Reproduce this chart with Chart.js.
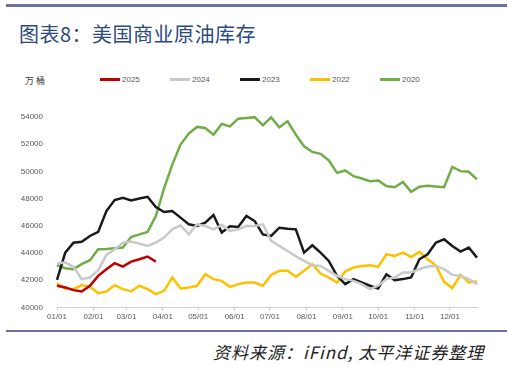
<!DOCTYPE html>
<html>
<head>
<meta charset="utf-8">
<script src="https://cdn.jsdelivr.net/npm/chart.js@4"></script>
<style>
  body { margin: 0; background: #fff; width: 507px; height: 365px; overflow: hidden; position: relative; font-family: "Noto Sans CJK SC", sans-serif; }
  #topline { position: absolute; left: 6px; right: 0; top: 4px; height: 3px; background: #6d6f9e; }
  #title { position: absolute; left: 19px; top: 19px; font-size: 20px; color: #2b4a80; letter-spacing: 0.5px; }
  #unit { position: absolute; left: 25px; top: 74px; font-size: 9px; color: #404040; }
  #legend { position: absolute; left: 0; top: 74px; height: 12px; width: 507px; }
  .item { position: absolute; top: 0; height: 12px; font: 8px "Liberation Sans", sans-serif; color: #595959; line-height: 12px; }
  .item span { display: inline-block; width: 20px; height: 3px; vertical-align: middle; margin-right: 2px; }
  #box { position: absolute; left: 0; top: 60px; width: 507px; height: 270px; }
  #botline { position: absolute; left: 6px; right: 0; top: 330px; height: 2px; background: #6d6f9e; }
  #source { position: absolute; left: 213px; top: 339px; font-size: 17px; font-style: italic; color: #222; letter-spacing: 1px; }
</style>
</head>
<body>
<div id="topline"></div>
<div id="title">图表8：美国商业原油库存</div>
<div id="unit">万 桶</div>
<div id="legend"></div>
<div id="box"><canvas id="mychart"></canvas></div>
<div id="botline"></div>
<div id="source">资料来源：iFind, 太平洋证券整理</div>
<script>
// weekly values, 万桶
let s2025 = [41590, 41470, 41270, 41170, 41590, 42320, 42810, 43250, 43000, 43370, 43540, 43740, 43370]
let s2024 = [43250, 43300, 43000, 42080, 42200, 42740, 43860, 44280, 44760, 44840, 44690, 44520, 44760, 45130, 45740, 46030, 45370, 46110, 45990, 45740, 46060, 45620, 45740, 45990,
  45990, 46110, 44890, 44520, 44150, 43760, 43420, 43100, 43050, 42690, 42320, 42080, 41950, 41710, 41340, 41590, 42080, 42200, 42570, 42570, 42810, 43000, 43050, 42810, 42390, 42320, 42080, 41710]
let s2023 = [42030, 44030, 44760, 44830, 45250, 45550, 47080, 47890, 48060, 47870, 48010, 48130, 47380, 47010, 47080, 46600, 46110, 45990, 46230, 46790, 45500, 45960, 45910, 46720,
  46350, 45370, 45250, 45860, 45790, 45740, 44030, 44570, 44030, 43420, 42320, 41710, 42080, 41830, 41590, 41390, 42440, 42000, 42080, 42200, 43540, 43910, 44760, 45010, 44520, 44100, 44400, 43660]
let s2022 = [41780, 41390, 41340, 41640, 41510, 41050, 41170, 41640, 41340, 41170, 41590, 41340, 40980, 41220, 42200, 41390, 41470, 41590, 42440, 42080, 41950, 41510, 41710, 41830,
  41830, 41590, 42390, 42690, 42690, 42250, 42690, 43180, 42490, 42200, 41830, 42640, 42930, 43050, 43100, 42980, 43910, 43790, 44030, 43710, 44080, 43540, 43100, 41880, 41420, 42390, 41830, 41900]
let s2020 = [43100, 42880, 42810, 43180, 43470, 44280, 44300, 44350, 44400, 45180, 45370, 45550, 46720, 48750, 50500, 51970, 52780, 53270, 53190, 52700, 53490, 53310, 53880, 53930,
  53990, 53390, 53970, 53240, 53680, 52700, 51850, 51430, 51290, 50820, 49890, 50070, 49650, 49480, 49280, 49330, 48920, 48840, 49230, 48500, 48870, 48940, 48890, 48840, 50330, 50020, 49970, 49410]

let monthLabels = ['01/01', '02/01', '03/01', '04/01', '05/01', '06/01', '07/01', '08/01', '09/01', '10/01', '11/01', '12/01']
let monthDays = [0, 31, 59, 90, 120, 151, 181, 212, 243, 273, 304, 334]
let yTicks = [40000, 42000, 44000, 46000, 48000, 50000, 52000, 54000]

function toPoints(arr) {
  return arr.map((v, i) => ({ x: i * 7, y: v }))
}
function ds(label, arr, color) {
  return { label: label, data: toPoints(arr), borderColor: color, backgroundColor: color, borderWidth: 2.5, pointRadius: 0, tension: 0, clip: false }
}

let ctx = document.getElementById('mychart').getContext('2d');
let chart = new Chart(ctx, {
  type: 'line',
  data: {
    datasets: [
      ds('2025', s2025, '#c00000'),
      ds('2024', s2024, '#c9c9c9'),
      ds('2023', s2023, '#1a1a1a'),
      ds('2022', s2022, '#ffc000'),
      ds('2020', s2020, '#70ad47')
    ]
  },
  options: {
    responsive: true,
    maintainAspectRatio: false,
    animation: false,
    layout: { padding: { left: 0, right: 30, top: 57, bottom: 6 } },
    scales: {
      x: {
        type: 'linear',
        min: 0,
        max: 357,
        afterBuildTicks: (axis) => { axis.ticks = monthDays.map(d => ({ value: d })) },
        ticks: {
          color: '#595959',
          font: { family: 'Liberation Sans', size: 8 },
          maxRotation: 0,
          autoSkip: false,
          padding: 2,
          callback: (v) => monthLabels[monthDays.indexOf(v)]
        },
        grid: { display: true, drawOnChartArea: false, drawTicks: true, tickLength: 3, color: '#d0d0d0' },
        border: { display: true, color: '#d0d0d0', width: 1 }
      },
      y: {
        min: 40000,
        max: 54000,
        afterBuildTicks: (axis) => { axis.ticks = yTicks.map(v => ({ value: v })) },
        afterFit: (scale) => { scale.width = 57 },
        ticks: {
          color: '#595959',
          font: { family: 'Liberation Sans', size: 8 },
          padding: 6,
          callback: (v) => String(v)
        },
        grid: { display: false },
        border: { display: false }
      }
    },
    plugins: {
      legend: { display: false },
      tooltip: { enabled: false }
    }
  }
});

// legend in html, from the datasets
let legend = document.getElementById('legend')
chart.data.datasets.forEach((d, i) => {
  let el = document.createElement('div')
  el.className = 'item'
  el.style.left = (100 + i * 70) + 'px'
  el.innerHTML = '<span style="background:' + d.borderColor + '"></span>' + d.label
  legend.appendChild(el)
})
</script>
</body>
</html>
